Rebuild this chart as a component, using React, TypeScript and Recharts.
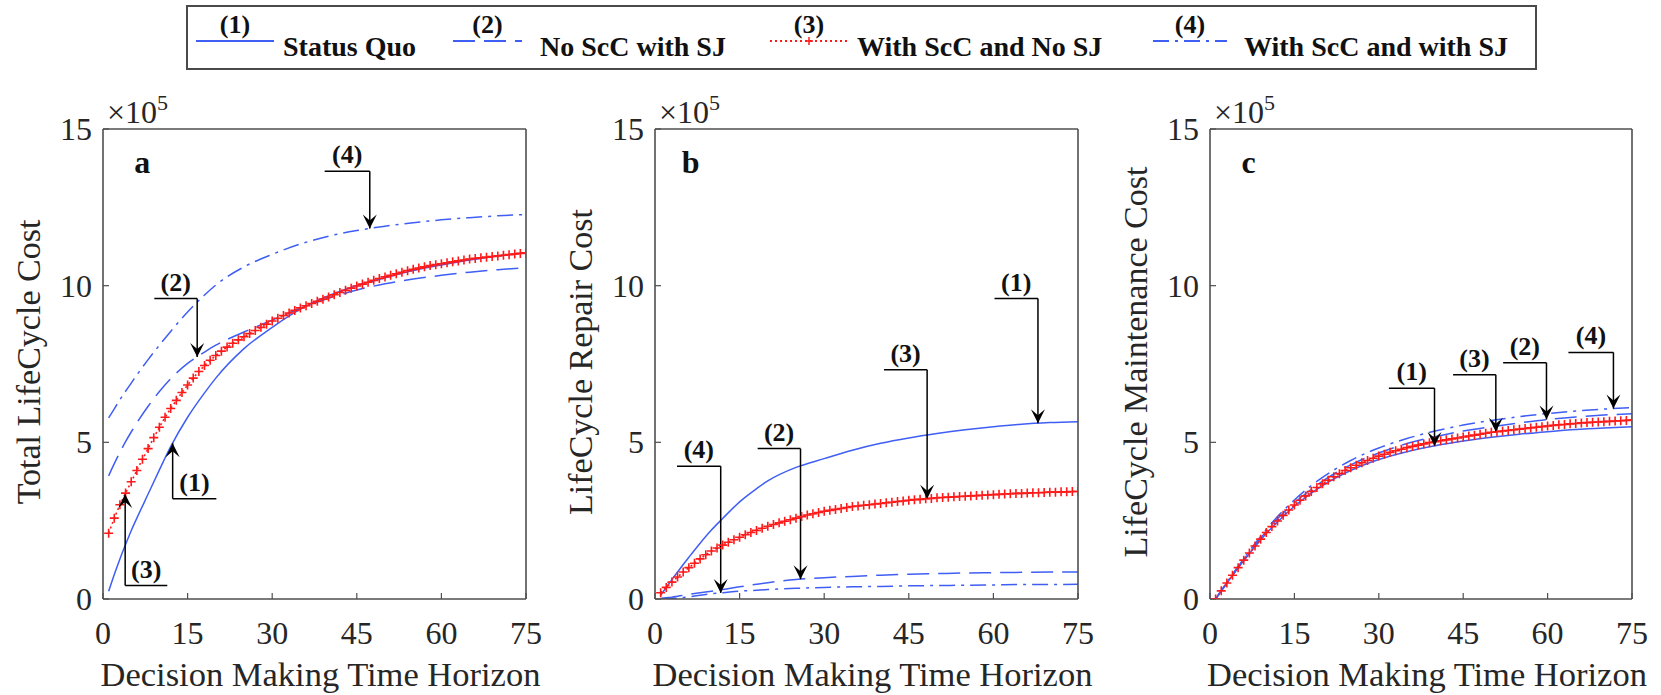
import React from "react";
import { LineChart, Line, XAxis, YAxis, ReferenceLine, ReferenceDot } from "recharts";

// horizon years (every year carries a marker on the red series)
const YEARS = Array.from({ length: 75 }, (_, i) => i + 1);
// sample years for the smooth blue curves
const X_SAMPLE = [1, 2, 3, 4, 5, 6, 8, 10, 12, 15, 18, 20, 25, 30, 35, 40, 45, 50, 55, 60, 65, 70, 75];
const X_TICKS = [0, 15, 30, 45, 60, 75];
const Y_TICKS = [0, 5, 10, 15];

// (a) total life-cycle cost, x10^5
const TOTAL_STATUS_QUO = [0.25, 0.78, 1.28, 1.74, 2.18, 2.58, 3.35, 4.12, 4.86, 5.8, 6.58, 7.05, 7.99, 8.67, 9.25, 9.68, 10.0, 10.25, 10.48, 10.66, 10.82, 10.95, 11.05];
const TOTAL_NO_SCC_SJ = [3.93, 4.32, 4.68, 5.02, 5.33, 5.62, 6.15, 6.62, 7.03, 7.52, 7.88, 8.1, 8.52, 8.9, 9.28, 9.6, 9.86, 10.06, 10.21, 10.33, 10.43, 10.51, 10.57];
const TOTAL_SCC_NO_SJ = [
  2.1, 2.58, 3.01, 3.38, 3.74, 4.1, 4.46, 4.8, 5.15, 5.48, 5.8, 6.08, 6.34, 6.59, 6.83, 7.05, 7.26, 7.45, 7.62, 7.77,
  7.91, 8.04, 8.16, 8.27, 8.37, 8.47, 8.57, 8.67, 8.77, 8.87, 8.96, 9.05, 9.13, 9.21, 9.29, 9.36, 9.43, 9.5, 9.57, 9.64,
  9.71, 9.78, 9.85, 9.92, 9.99, 10.05, 10.11, 10.17, 10.23, 10.28, 10.33, 10.38, 10.43, 10.48, 10.52, 10.56, 10.6, 10.64, 10.67, 10.7,
  10.73, 10.76, 10.79, 10.82, 10.85, 10.87, 10.89, 10.91, 10.93, 10.95, 10.97, 10.99, 11.01, 11.03, 11.05,
];
const TOTAL_SCC_SJ = [5.78, 6.07, 6.36, 6.63, 6.89, 7.15, 7.64, 8.1, 8.54, 9.16, 9.7, 10.02, 10.6, 11.0, 11.33, 11.58, 11.76, 11.9, 12.01, 12.1, 12.17, 12.23, 12.27];

// (b) life-cycle repair cost
const REPAIR_STATUS_QUO = [0.12, 0.37, 0.62, 0.86, 1.1, 1.33, 1.78, 2.2, 2.57, 3.1, 3.52, 3.77, 4.2, 4.48, 4.75, 4.97, 5.14, 5.28, 5.4, 5.5, 5.58, 5.63, 5.66];
const REPAIR_NO_SCC_SJ = [0.02, 0.04, 0.06, 0.09, 0.12, 0.15, 0.2, 0.25, 0.3, 0.39, 0.47, 0.52, 0.62, 0.68, 0.72, 0.76, 0.79, 0.81, 0.83, 0.84, 0.85, 0.86, 0.86];
const REPAIR_SCC_NO_SJ = [
  0.2, 0.37, 0.54, 0.7, 0.86, 1.0, 1.14, 1.28, 1.41, 1.53, 1.63, 1.72, 1.81, 1.89, 1.97, 2.05, 2.12, 2.19, 2.26, 2.32,
  2.38, 2.43, 2.48, 2.53, 2.58, 2.63, 2.68, 2.72, 2.76, 2.8, 2.83, 2.86, 2.89, 2.92, 2.95, 2.97, 2.99, 3.01, 3.03, 3.05,
  3.07, 3.09, 3.11, 3.13, 3.15, 3.17, 3.18, 3.2, 3.21, 3.23, 3.24, 3.25, 3.26, 3.27, 3.28, 3.29, 3.3, 3.31, 3.32, 3.33,
  3.34, 3.35, 3.36, 3.37, 3.37, 3.38, 3.39, 3.39, 3.4, 3.41, 3.41, 3.42, 3.42, 3.43, 3.43,
];
const REPAIR_SCC_SJ = [0.0, 0.01, 0.02, 0.03, 0.05, 0.07, 0.12, 0.17, 0.2, 0.25, 0.28, 0.3, 0.34, 0.37, 0.39, 0.4, 0.42, 0.43, 0.44, 0.45, 0.46, 0.46, 0.47];

// (c) life-cycle maintenance cost
const MAINT_STATUS_QUO = [0, 0.25, 0.5, 0.75, 0.99, 1.22, 1.67, 2.09, 2.46, 2.96, 3.38, 3.62, 4.1, 4.45, 4.7, 4.89, 5.04, 5.16, 5.26, 5.34, 5.41, 5.46, 5.5];
const MAINT_NO_SCC_SJ = [0, 0.26, 0.52, 0.77, 1.02, 1.26, 1.72, 2.16, 2.56, 3.07, 3.5, 3.76, 4.28, 4.66, 4.96, 5.18, 5.36, 5.5, 5.62, 5.73, 5.81, 5.87, 5.91];
const MAINT_SCC_NO_SJ = [
  0.0, 0.26, 0.51, 0.76, 1.0, 1.24, 1.47, 1.69, 1.91, 2.12, 2.31, 2.49, 2.67, 2.84, 3.0, 3.15, 3.29, 3.43, 3.56, 3.68,
  3.79, 3.9, 4.0, 4.1, 4.19, 4.27, 4.35, 4.42, 4.49, 4.56, 4.62, 4.68, 4.73, 4.78, 4.83, 4.87, 4.91, 4.95, 4.99, 5.02,
  5.05, 5.08, 5.11, 5.14, 5.17, 5.2, 5.23, 5.26, 5.29, 5.32, 5.34, 5.36, 5.38, 5.4, 5.42, 5.44, 5.46, 5.48, 5.5, 5.52,
  5.54, 5.56, 5.57, 5.59, 5.6, 5.62, 5.63, 5.64, 5.65, 5.66, 5.67, 5.68, 5.69, 5.7, 5.71,
];
const MAINT_SCC_SJ = [0, 0.27, 0.53, 0.79, 1.04, 1.29, 1.77, 2.22, 2.63, 3.16, 3.62, 3.88, 4.42, 4.82, 5.12, 5.36, 5.55, 5.7, 5.82, 5.92, 6.0, 6.06, 6.11];

const BLUE = "#3f5ef4";
const RED = "#ff1a1a";
const INK = "#262626";
const FRAME = "#4f4f4f";
const FONT = "Liberation Serif, Times New Roman, serif";

const SERIES = [
  { tag: "(1)", name: "Status Quo", color: BLUE, dash: undefined as string | undefined, plus: false },
  { tag: "(2)", name: "No ScC with SJ", color: BLUE, dash: "22 9", plus: false },
  { tag: "(3)", name: "With ScC and No SJ", color: RED, dash: "2 3", plus: true },
  { tag: "(4)", name: "With ScC and with SJ", color: BLUE, dash: "16 6 3 6", plus: false },
];

type Pt = { x: number; y: number };
const pts = (xs: number[], ys: number[]): Pt[] => xs.map((x, i) => ({ x, y: ys[i] }));

// value on a series at x, used to put arrow tips on the curve
function valueAt(data: Pt[], x: number) {
  for (let i = 1; i < data.length; i++) {
    if (data[i].x >= x) {
      const a = data[i - 1];
      const b = data[i];
      return a.y + ((b.y - a.y) * (x - a.x)) / (b.x - a.x);
    }
  }
  return data[data.length - 1].y;
}

// s: series index, x: arrow x, from: far end of the leader, y: leader height
type Note = { s: number; x: number; from: number; y: number };

const PANELS = [
  {
    letter: "a",
    letterX: 5.55,
    title: "Total LifeCycle Cost",
    left: 0,
    width: 590,
    axisW: 103,
    right: 64,
    data: [
      pts(X_SAMPLE, TOTAL_STATUS_QUO),
      pts(X_SAMPLE, TOTAL_NO_SCC_SJ),
      pts(YEARS, TOTAL_SCC_NO_SJ),
      pts(X_SAMPLE, TOTAL_SCC_SJ),
    ],
    notes: [
      { s: 3, x: 47.3, from: 39.3, y: 13.65 },
      { s: 1, x: 16.7, from: 9.1, y: 9.59 },
      { s: 0, x: 12.35, from: 20.1, y: 3.2 },
      { s: 2, x: 3.93, from: 11.4, y: 0.43 },
    ] as Note[],
  },
  {
    letter: "b",
    letterX: 4.75,
    title: "LifeCycle Repair Cost",
    left: 540,
    width: 590,
    axisW: 115,
    right: 52,
    data: [
      pts(X_SAMPLE, REPAIR_STATUS_QUO),
      pts(X_SAMPLE, REPAIR_NO_SCC_SJ),
      pts(YEARS, REPAIR_SCC_NO_SJ),
      pts(X_SAMPLE, REPAIR_SCC_SJ),
    ],
    notes: [
      { s: 0, x: 67.9, from: 60.2, y: 9.59 },
      { s: 2, x: 48.25, from: 40.6, y: 7.32 },
      { s: 1, x: 25.8, from: 18.2, y: 4.8 },
      { s: 3, x: 11.65, from: 3.9, y: 4.24 },
    ] as Note[],
  },
  {
    letter: "c",
    letterX: 5.6,
    title: "LifeCycle Maintenance Cost",
    left: 1100,
    width: 561,
    axisW: 110,
    right: 29,
    data: [
      pts(X_SAMPLE, MAINT_STATUS_QUO),
      pts(X_SAMPLE, MAINT_NO_SCC_SJ),
      pts(YEARS, MAINT_SCC_NO_SJ),
      pts(X_SAMPLE, MAINT_SCC_SJ),
    ],
    notes: [
      { s: 0, x: 39.9, from: 31.8, y: 6.73 },
      { s: 2, x: 50.8, from: 43.2, y: 7.16 },
      { s: 1, x: 59.8, from: 52.1, y: 7.54 },
      { s: 3, x: 71.7, from: 63.7, y: 7.87 },
    ] as Note[],
  },
];

const PlusMarker = (props: any) => {
  const { cx, cy, index } = props;
  if (cx == null || cy == null) return <g key={`m${index}`} />;
  return <path key={`m${index}`} d={`M${cx - 4.5},${cy}h9M${cx},${cy - 4.5}v9`} stroke={RED} strokeWidth={1.6} fill="none" />;
};

// tick label drawn as plain svg text so the serif face is kept
const AxisTick = (props: any) => {
  const { x, y, payload, textAnchor, verticalAnchor } = props;
  return (
    <text x={x} y={y} dy={verticalAnchor === "start" ? "0.71em" : "0.34em"} textAnchor={textAnchor} fontFamily={FONT} fontSize={32} fill={INK}>
      {payload.value}
    </text>
  );
};

const XTitle = (props: any) => {
  const vb = props.viewBox;
  return (
    <text x={vb.x + vb.width / 2 + 6} y={vb.y + 87} textAnchor="middle" fontFamily={FONT} fontSize={34.5} fill={INK}>
      Decision Making Time Horizon
    </text>
  );
};

const yTitle = (title: string) => (props: any) => {
  const vb = props.viewBox;
  const cx = vb.x + vb.width - 74 + 11;
  const cy = vb.y + vb.height / 2 - 2;
  return (
    <text x={cx} y={cy} transform={`rotate(-90, ${cx}, ${cy})`} textAnchor="middle" fontFamily={FONT} fontSize={34} fill={INK}>
      {title}
    </text>
  );
};

const frameLine = { stroke: FRAME, strokeWidth: 1.6 };
const tickLine = { stroke: FRAME, strokeWidth: 1.2 };

function Panel({ p }: { p: (typeof PANELS)[number] }) {
  return (
    <div style={{ position: "absolute", left: p.left, top: 0 }}>
      <LineChart width={p.width} height={695} margin={{ top: 128, right: p.right - 1, bottom: 0, left: 0 }} style={{ fontFamily: FONT }}>
        <XAxis
          xAxisId="x"
          type="number"
          dataKey="x"
          domain={[0, 75]}
          ticks={X_TICKS}
          interval={0}
          allowDataOverflow
          height={96}
          tickSize={-6}
          tickMargin={28}
          axisLine={frameLine}
          tickLine={tickLine}
          tick={AxisTick}
          label={{ content: XTitle }}
        />
        <XAxis
          xAxisId="xt"
          orientation="top"
          type="number"
          dataKey="x"
          domain={[0, 75]}
          ticks={X_TICKS}
          interval={0}
          allowDataOverflow
          height={1}
          tickSize={-6}
          tick={false}
          axisLine={frameLine}
          tickLine={tickLine}
        />
        <YAxis
          yAxisId="y"
          type="number"
          domain={[0, 15]}
          ticks={Y_TICKS}
          interval={0}
          allowDataOverflow
          width={p.axisW}
          tickSize={-6}
          tickMargin={17}
          axisLine={frameLine}
          tickLine={tickLine}
          tick={AxisTick}
          label={{ content: yTitle(p.title) }}
        />
        <YAxis
          yAxisId="yr"
          orientation="right"
          type="number"
          domain={[0, 15]}
          ticks={Y_TICKS}
          interval={0}
          allowDataOverflow
          width={1}
          tickSize={-6}
          tick={false}
          axisLine={frameLine}
          tickLine={tickLine}
        />

        {SERIES.map((s, i) => (
          <Line
            key={s.tag}
            xAxisId="x"
            yAxisId="y"
            data={p.data[i]}
            dataKey="y"
            type={s.plus ? "linear" : "monotone"}
            stroke={s.color}
            strokeWidth={s.plus ? 1.6 : 1.5}
            strokeDasharray={s.dash}
            dot={s.plus ? PlusMarker : false}
            activeDot={false}
            isAnimationActive={false}
          />
        ))}

        {p.notes.map((n, i) => {
          const tip = valueAt(p.data[n.s], n.x);
          const dir = tip < n.y ? 1 : -1;
          const mid = (n.x + n.from) / 2;
          return (
            <React.Fragment key={`n${i}`}>
              <ReferenceLine xAxisId="x" yAxisId="y" segment={[{ x: n.from, y: n.y }, { x: n.x, y: n.y }]} stroke="#000" strokeWidth={1.5} />
              <ReferenceLine xAxisId="x" yAxisId="y" segment={[{ x: n.x, y: n.y }, { x: n.x, y: tip }]} stroke="#000" strokeWidth={1.5} />
              <ReferenceDot
                xAxisId="x"
                yAxisId="y"
                x={n.x}
                y={tip}
                ifOverflow="visible"
                shape={(d: any) => (
                  <path
                    d={`M${d.cx},${d.cy}L${d.cx - 7},${d.cy - 14 * dir}L${d.cx},${d.cy - 8 * dir}L${d.cx + 7},${d.cy - 14 * dir}Z`}
                    fill="#000"
                  />
                )}
              />
              <ReferenceDot
                xAxisId="x"
                yAxisId="y"
                x={mid}
                y={n.y}
                ifOverflow="visible"
                shape={(d: any) => (
                  <text x={d.cx} y={d.cy - 8} textAnchor="middle" fontFamily={FONT} fontWeight="bold" fontSize={26} fill="#111">
                    {SERIES[n.s].tag}
                  </text>
                )}
              />
            </React.Fragment>
          );
        })}

        {/* panel letter */}
        <ReferenceDot
          xAxisId="x"
          yAxisId="y"
          x={p.letterX}
          y={13.6}
          ifOverflow="visible"
          shape={(d: any) => (
            <text x={d.cx} y={d.cy} fontFamily={FONT} fontWeight="bold" fontSize={32} fill="#111">
              {p.letter}
            </text>
          )}
        />
        {/* axis multiplier above the top-left corner */}
        <ReferenceDot
          xAxisId="x"
          yAxisId="y"
          x={0}
          y={15}
          ifOverflow="visible"
          shape={(d: any) => (
            <text x={d.cx + 4} y={d.cy - 6} fontFamily={FONT} fontSize={32} fill={INK}>
              ×10
              <tspan fontSize={22} dy={-13}>
                5
              </tspan>
            </text>
          )}
        />
      </LineChart>
    </div>
  );
}

// legend entries: sample line span and text start
const LEGEND_POS = [
  { x0: 196, x1: 274, text: 283 },
  { x0: 453, x1: 522, text: 540 },
  { x0: 770, x1: 848, text: 857 },
  { x0: 1153, x1: 1227, text: 1244 },
];

function Legend() {
  return (
    <svg width={1661} height={80} style={{ position: "absolute", left: 0, top: 0 }}>
      <rect x={187} y={6} width={1349} height={63} fill="#fff" stroke="#4a4a4a" strokeWidth={2} />
      {SERIES.map((s, i) => {
        const pos = LEGEND_POS[i];
        const mid = (pos.x0 + pos.x1) / 2;
        return (
          <g key={s.tag}>
            <line x1={pos.x0} x2={pos.x1} y1={41} y2={41} stroke={s.color} strokeWidth={2} strokeDasharray={s.dash} />
            {s.plus && <path d={`M${mid - 4},41h8M${mid},37v8`} stroke={RED} strokeWidth={1.5} />}
            <text x={mid} y={33} textAnchor="middle" fontFamily={FONT} fontWeight="bold" fontSize={26} fill="#111">
              {s.tag}
            </text>
            <text x={pos.text} y={56} fontFamily={FONT} fontWeight="bold" fontSize={28} fill="#111">
              {s.name}
            </text>
          </g>
        );
      })}
    </svg>
  );
}

export default function App() {
  return (
    <div style={{ position: "absolute", left: 0, top: 0, width: 1661, height: 695, background: "#fff", overflow: "hidden", fontFamily: FONT }}>
      {PANELS.map((p) => (
        <Panel key={p.letter} p={p} />
      ))}
      <Legend />
    </div>
  );
}
